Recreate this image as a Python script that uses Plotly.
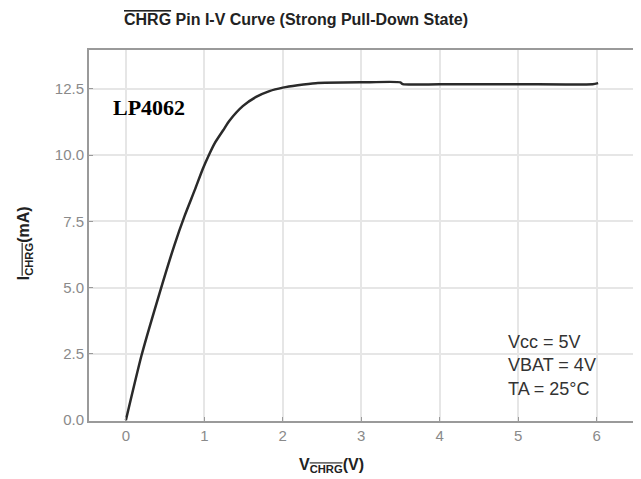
import plotly.graph_objects as go

# Data
v_chrg = [0, 0.2, 0.41, 0.62, 0.75, 0.88, 0.98, 1.06, 1.13, 1.24, 1.32, 1.49, 1.66, 1.83, 2.0, 2.19,
          2.42, 3.0, 3.5, 3.53, 4.0, 5.0, 5.95, 6.02]
i_chrg = [0, 2.45, 4.6, 6.62, 7.72, 8.7, 9.48, 10.02, 10.44, 10.94, 11.3, 11.85, 12.2, 12.42, 12.55, 12.64,
          12.72, 12.75, 12.75, 12.68, 12.68, 12.68, 12.68, 12.72]
x_ticks = [0, 1, 2, 3, 4, 5, 6]
y_ticks = [0.0, 2.5, 5.0, 7.5, 10.0, 12.5]
y_tick_labels = ["0.0", "2.5", "5.0", "7.5", "10.0", "12.5"]
conditions = ["Vcc = 5V", "VBAT = 4V", "TA = 25\u00b0C"]

# page body has an 8px margin; shrink figure so plot area lands where the reference has it
W, H = 633, 471
ML, MR, MT, MB = 81, 4, 42, 58
PW, PH = W - ML - MR, H - MT - MB

def px(xs):  # screen x pixel -> paper
    return (xs - 8 - ML) / PW

def py(ys):  # screen y pixel -> paper
    return (H - MB - (ys - 8)) / PH

fig = go.Figure()
fig.add_trace(go.Scatter(x=v_chrg, y=i_chrg, mode="lines",
                         line=dict(color="#2a2a2a", width=2.5, shape="spline", smoothing=0.6),
                         showlegend=False))

axis_common = dict(showgrid=True, gridcolor="#e6e6e6", gridwidth=1.5,
                   showline=True, linecolor="#9a9a9a", linewidth=2, mirror=True,
                   ticks="inside", ticklen=4, tickcolor="#9a9a9a", zeroline=False,
                   tickfont=dict(family="Arial, Liberation Sans", size=15, color="#8a8a8a"))

fig.update_layout(
    width=W, height=H,
    margin=dict(l=ML, r=MR, t=MT, b=MB),
    paper_bgcolor="white", plot_bgcolor="white",
    xaxis=dict(range=[-0.47, 6.49], tickvals=x_ticks, **axis_common),
    yaxis=dict(range=[-0.03, 13.97], tickvals=y_ticks, ticktext=y_tick_labels, **axis_common),
)

# Title
fig.add_annotation(xref="paper", yref="paper", x=px(296.5), y=py(20),
                   xanchor="center", yanchor="middle", showarrow=False,
                   text="<b><span style='text-decoration:overline'>CHRG</span> Pin I-V Curve (Strong Pull-Down State)</b>",
                   font=dict(family="Arial, Liberation Sans", size=16, color="#222222"))

# Axis titles
fig.add_annotation(xref="paper", yref="paper", x=px(332), y=py(465),
                   xanchor="center", yanchor="middle", showarrow=False,
                   text="<b>V<sub><span style='text-decoration:overline'>CHRG</span></sub>(V)</b>",
                   font=dict(family="Arial, Liberation Sans", size=16, color="#222222"))
fig.add_annotation(xref="paper", yref="paper", x=px(24), y=py(243),
                   xanchor="center", yanchor="middle", showarrow=False, textangle=-90,
                   text="<b>I<sub><span style='text-decoration:overline'>CHRG</span></sub>(mA)</b>",
                   font=dict(family="Arial, Liberation Sans", size=16, color="#222222"))

# LP4062 label on a white box
fig.add_shape(type="rect", xref="paper", yref="paper",
              x0=px(93), x1=px(215), y0=py(127), y1=py(87),
              fillcolor="white", line=dict(width=0), layer="between")
fig.add_annotation(xref="paper", yref="paper", x=px(149), y=py(108),
                   xanchor="center", yanchor="middle", showarrow=False,
                   text="<b>LP4062</b>",
                   font=dict(family="Liberation Serif, Times New Roman", size=22, color="black"))

# Conditions text
fig.add_annotation(xref="paper", yref="paper", x=px(508), y=py(365),
                   xanchor="left", yanchor="middle", showarrow=False,
                   align="left", text="<br>".join(conditions),
                   font=dict(family="Arial, Liberation Sans", size=18, color="#333333"))

fig.write_html("out.html")
